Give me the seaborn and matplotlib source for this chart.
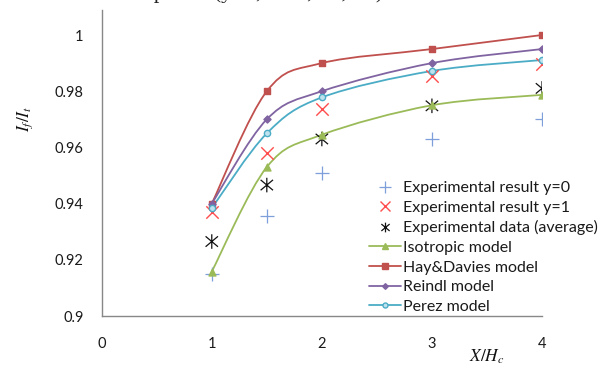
import numpy as np
import pandas as pd
import matplotlib
matplotlib.use("Agg")
import matplotlib.pyplot as plt
import seaborn as sns
from matplotlib.path import Path
from matplotlib.patches import PathPatch
from matplotlib.lines import Line2D

# ---- data ----
x_vals = [1, 1.5, 2, 3, 4]
exp_y0 = [0.915, 0.9355, 0.951, 0.963, 0.970]
exp_y1 = [0.937, 0.958, 0.9737, 0.9854, 0.9897]
exp_avg = [0.9265, 0.9466, 0.963, 0.9748, 0.981]
isotropic = [0.9158, 0.953, 0.9645, 0.975, 0.9787]
hay_davies = [0.940, 0.980, 0.990, 0.995, 1.000]
reindl = [0.940, 0.970, 0.980, 0.990, 0.995]
perez = [0.9384, 0.965, 0.9778, 0.9872, 0.9911]
x_ticks = [0, 1, 2, 3, 4]
y_ticks = [0.90, 0.92, 0.94, 0.96, 0.98, 1.00]
y_tick_labels = ["0.9", "0.92", "0.94", "0.96", "0.98", "1"]

sns.set_style("white")
plt.rcParams["font.family"] = ["Lato", "DejaVu Sans"]
plt.rcParams["mathtext.fontset"] = "stix"

fig = plt.figure(figsize=(6.11, 3.73), dpi=100)
ax = fig.add_axes([101.7 / 611, 1 - 316 / 373, (542 - 101.7) / 611, (316 - 10) / 373])


def smooth_path(xs, ys):
    pts = np.column_stack([xs, ys]).astype(float)
    n = len(pts)
    verts = [pts[0]]
    codes = [Path.MOVETO]
    for i in range(n - 1):
        p0 = pts[i - 1] if i > 0 else pts[i]
        p1 = pts[i]
        p2 = pts[i + 1]
        p3 = pts[i + 2] if i + 2 < n else pts[i + 1]
        c1 = p1 + (p2 - p0) / 6.0
        c2 = p2 - (p3 - p1) / 6.0
        verts += [c1, c2, p2]
        codes += [Path.CURVE4] * 3
    return Path(verts, codes)


# asterisk marker: vertical bar plus an "X"
ang = np.deg2rad(40)
ast = Path(
    [(0, -0.9), (0, 0.9),
     (-np.cos(ang), -np.sin(ang)), (np.cos(ang), np.sin(ang)),
     (-np.cos(ang), np.sin(ang)), (np.cos(ang), -np.sin(ang))],
    [Path.MOVETO, Path.LINETO] * 3)

C_Y0 = "#7f9fdb"
C_Y1 = "#ff4d4d"
C_AVG = "#111111"
C_ISO = "#9bbb59"
C_HAY = "#c0504d"
C_REI = "#8064a2"
C_PER = "#4bacc6"

models = [
    ("Isotropic model", isotropic, C_ISO, "^", 5, C_ISO),
    ("Hay&Davies model", hay_davies, C_HAY, "s", 5, C_HAY),
    ("Reindl model", reindl, C_REI, "D", 3.6, C_REI),
    ("Perez model", perez, C_PER, "o", 4.5, "#bfe3ee"),
]

for name, vals, col, mk, ms, fc in models:
    ax.add_patch(PathPatch(smooth_path(x_vals, vals), fill=False, edgecolor=col,
                           lw=1.3, transform=ax.transData, zorder=2))

# experimental markers
sns.scatterplot(x=x_vals, y=exp_y0, ax=ax, marker="+", s=90, color=C_Y0,
                linewidth=0.9, zorder=3)
sns.scatterplot(x=x_vals, y=exp_y1, ax=ax, marker="x", s=80, color=C_Y1,
                linewidth=1.0, zorder=3)
sns.scatterplot(x=x_vals, y=exp_avg, ax=ax, marker=ast, s=110, color=C_AVG,
                edgecolor=C_AVG, facecolor="none", linewidth=0.9, zorder=3)
for name, vals, col, mk, ms, fc in models:
    sns.scatterplot(x=x_vals, y=vals, ax=ax, marker=mk, s=(ms * 1.0) ** 2,
                    color=fc, edgecolor=col, linewidth=1.0, zorder=4)

ax.set_xlim(0, 4)
ax.set_ylim(0.9, 1.0089)
ax.set_xticks(x_ticks)
ax.set_xticklabels([str(v) for v in x_ticks])
ax.set_yticks(y_ticks)
ax.set_yticklabels(y_tick_labels)

for s in ["top", "right"]:
    ax.spines[s].set_visible(False)
for s in ["left", "bottom"]:
    ax.spines[s].set_color("#888888")
    ax.spines[s].set_linewidth(1.0)
ax.tick_params(axis="both", which="major", direction="out", length=5, width=1.0,
               color="#888888", labelsize=10.5, labelcolor="#1a1a1a", pad=8)
ax.tick_params(axis="x", pad=10)
ax.grid(False)

fig.text(25 / 611, 1 - 119 / 373, r"$I_f/I_t$", rotation=90, ha="center", va="center",
         fontsize=12.5, color="#111111")
fig.text(487 / 611, 1 - 357 / 373, r"$X/H_c$", ha="center", va="center",
         fontsize=12.5, color="#111111")

# caption text of the page, cropped at the very top edge as in the source image
fig.text(30 / 611, 1 + 7 / 373, "measurement points (y=0, \u00b10.5, \u00b11, \u00b12).",
         ha="left", va="center", fontsize=16, family="Liberation Serif", color="#222222")

handles = [
    Line2D([], [], ls="none", marker="+", ms=8, mew=0.9, color=C_Y0),
    Line2D([], [], ls="none", marker="x", ms=7, mew=1.0, color=C_Y1),
    Line2D([], [], ls="none", marker=ast, ms=7, mew=0.9, color=C_AVG, mfc="none"),
]
labels = ["Experimental result y=0", "Experimental result y=1", "Experimental data (average)"]
for name, vals, col, mk, ms, fc in models:
    handles.append(Line2D([], [], color=col, lw=1.3, marker=mk, ms=ms * 0.8,
                          mfc=fc, mec=col))
    labels.append(name)

fig.legend(handles, labels, loc="upper left", bbox_to_anchor=(369 / 611, 1 - 181 / 373),
           bbox_transform=fig.transFigure, frameon=False, fontsize=11.5,
           borderpad=0, borderaxespad=0, handlelength=2.0, handletextpad=0.1,
           labelspacing=0.34, labelcolor="#1a1a1a")

fig.savefig("out.png", dpi=100)
